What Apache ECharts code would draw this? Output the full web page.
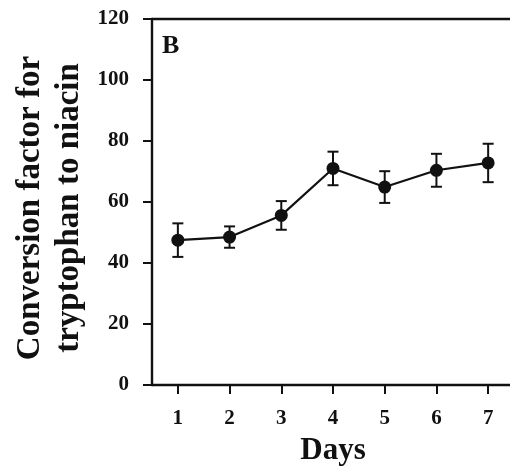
<!DOCTYPE html>
<html>
<head>
<meta charset="utf-8">
<script src="https://cdn.jsdelivr.net/npm/echarts@6/dist/echarts.min.js"></script>
<style>
html,body{margin:0;padding:0;background:#fff;}
#c{width:510px;height:471px;}
</style>
</head>
<body>
<div id="c"></div>
<script>
const days = ['1', '2', '3', '4', '5', '6', '7'];
const means = [47.5, 48.5, 55.6, 71.0, 64.9, 70.4, 72.8];
const errors = [5.5, 3.5, 4.7, 5.5, 5.2, 5.4, 6.3];
const yTicks = [0, 20, 40, 60, 80, 100, 120];
const panelLabel = 'B';
const xTitle = 'Days';
const yTitle = 'Conversion factor for\ntryptophan to niacin';

const FONT = 'Liberation Serif';
const chart = echarts.init(document.getElementById('c'), null, {renderer: 'canvas'});

const errData = days.map((d, i) => [i, means[i] - errors[i], means[i] + errors[i]]);

chart.setOption({
  animation: false,
  backgroundColor: '#fff',
  grid: {
    left: 152, top: 19, right: -4, bottom: 86,
    containLabel: false,
    outerBoundsMode: 'none',
    show: false
  },
  xAxis: [{
    type: 'category',
    data: days,
    boundaryGap: true,
    axisLine: {lineStyle: {color: '#111', width: 2.4}},
    axisTick: {show: true, alignWithLabel: true, inside: false, length: 9, lineStyle: {color: '#111', width: 2}},
    axisLabel: {color: '#111', fontFamily: FONT, fontWeight: 'bold', fontSize: 21, margin: 23},
    name: xTitle,
    nameLocation: 'middle',
    nameGap: 50,
    nameTextStyle: {color: '#111', fontFamily: FONT, fontWeight: 'bold', fontSize: 31},
    splitLine: {show: false}
  }, {
    type: 'category',
    data: days,
    position: 'top',
    axisLine: {show: true, lineStyle: {color: '#111', width: 2.4}},
    axisTick: {show: false},
    axisLabel: {show: false},
    splitLine: {show: false}
  }],
  yAxis: {
    type: 'value',
    min: yTicks[0], max: yTicks[yTicks.length - 1], interval: 20,
    axisLine: {show: true, lineStyle: {color: '#111', width: 2.4}},
    axisTick: {show: true, inside: false, length: 9, lineStyle: {color: '#111', width: 2}},
    axisLabel: {color: '#111', fontFamily: FONT, fontWeight: 'bold', fontSize: 21, margin: 23},
    splitLine: {show: false}
  },
  graphic: [{
    type: 'text', left: 162, top: 33,
    style: {text: panelLabel, fill: '#111', font: 'bold 26px "Liberation Serif"'}
  }, {
    type: 'text', x: 50, y: 208, rotation: Math.PI / 2,
    style: {
      text: yTitle, fill: '#111', font: 'bold 33px "Liberation Serif"',
      lineHeight: 39, align: 'center', verticalAlign: 'middle'
    }
  }],
  series: [
    {
      type: 'line',
      data: means,
      symbol: 'circle',
      symbolSize: 13,
      itemStyle: {color: '#111'},
      lineStyle: {color: '#111', width: 2.2},
      z: 3
    },
    {
      type: 'custom',
      data: errData,
      z: 2,
      renderItem: function (params, api) {
        const x = api.value(0);
        const lo = api.coord([x, api.value(1)]);
        const hi = api.coord([x, api.value(2)]);
        const hw = 5.5;
        const st = {stroke: '#111', lineWidth: 2};
        return {
          type: 'group',
          children: [
            {type: 'line', shape: {x1: lo[0], y1: lo[1], x2: hi[0], y2: hi[1]}, style: st},
            {type: 'line', shape: {x1: lo[0] - hw, y1: lo[1], x2: lo[0] + hw, y2: lo[1]}, style: st},
            {type: 'line', shape: {x1: hi[0] - hw, y1: hi[1], x2: hi[0] + hw, y2: hi[1]}, style: st}
          ]
        };
      }
    }
  ]
});
</script>
</body>
</html>
